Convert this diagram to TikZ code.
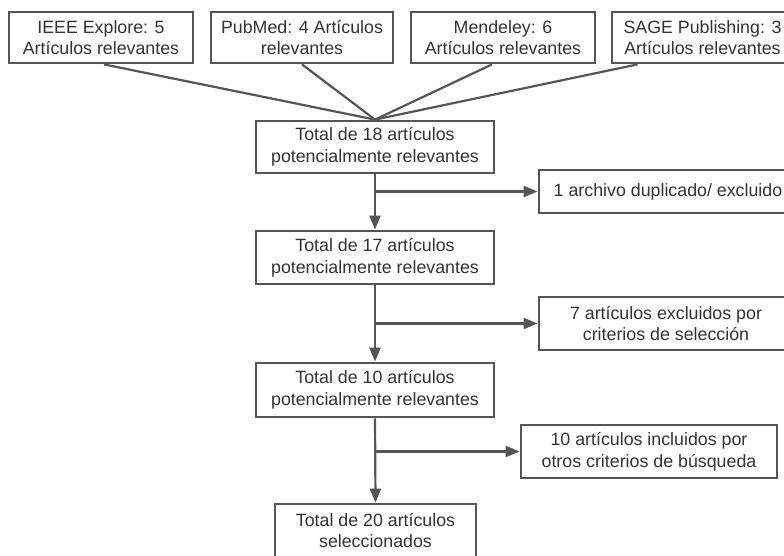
\documentclass[tikz,border=0pt]{standalone}
\usepackage{fontspec}
\setmainfont{Liberation Sans}
\usetikzlibrary{arrows.meta,calc}
\definecolor{txt}{HTML}{333333}
\definecolor{ln}{HTML}{555555}
\begin{document}
\begin{tikzpicture}[x=1pt,y=-1pt,
  box/.style={draw=ln,line width=2.8pt,fill=white,text=txt,align=center,inner sep=0pt,
    font=\fontsize{17.8}{21.7}\selectfont},
  conn/.style={draw=ln,line width=2.2pt},
  arr/.style={conn,-{Triangle[length=14pt,width=11pt]}}]
\useasboundingbox (0,0) rectangle (784,555);
% top sources
\node[box,minimum width=184pt,minimum height=51pt] (b1) at (101,37.5) {IEEE Explore: 5\\Artículos relevantes};
\node[box,minimum width=182pt,minimum height=51pt] (b2) at (302,37.5) {PubMed: 4 Artículos\\relevantes};
\node[box,minimum width=184pt,minimum height=51pt] (b3) at (503,37.5) {Mendeley: 6\\Artículos relevantes};
\node[box,minimum width=181pt,minimum height=51pt] (b4) at (702.5,37.5) {SAGE Publishing: 3\\Artículos relevantes};
% main chain
\node[box,minimum width=238pt,minimum height=52pt] (t18) at (375,147) {Total de 18 artículos\\potencialmente relevantes};
\node[box,minimum width=238pt,minimum height=53pt] (t17) at (375,257.5) {Total de 17 artículos\\potencialmente relevantes};
\node[box,minimum width=238pt,minimum height=54pt] (t10) at (375,390) {Total de 10 artículos\\potencialmente relevantes};
\node[box,minimum width=201pt,minimum height=53pt] (t20) at (375.5,530.5) {Total de 20 artículos\\seleccionados};
% side boxes
\node[box,minimum width=258pt,minimum height=43pt] (dup) at (668,191.5) {1 archivo duplicado/ excluido};
\node[box,minimum width=254pt,minimum height=53pt] (ex7) at (666,323.5) {7 artículos excluidos por\\criterios de selección};
\node[box,minimum width=256pt,minimum height=53pt] (inc) at (649,451.5) {10 artículos incluidos por\\otros criterios de búsqueda};
% converging lines
\draw[conn] ([xshift=3pt]b1.south) -- (t18.north);
\draw[conn] (b2.south) -- (t18.north);
\draw[conn] ([xshift=-11pt]b3.south) -- (t18.north);
\draw[conn] ([xshift=-65pt]b4.south) -- (t18.north);
% vertical arrows
\draw[arr] (t18.south) -- (t17.north);
\draw[arr] (t17.south) -- (t10.north);
\draw[arr] (t10.south) -- (t20.north);
% side branches
\draw[arr] (t18.south |- dup.west) -- (dup.west);
\draw[arr] (t17.south |- ex7.west) -- (ex7.west);
\draw[arr] (t10.south |- inc.west) -- (inc.west);
\end{tikzpicture}
\end{document}
